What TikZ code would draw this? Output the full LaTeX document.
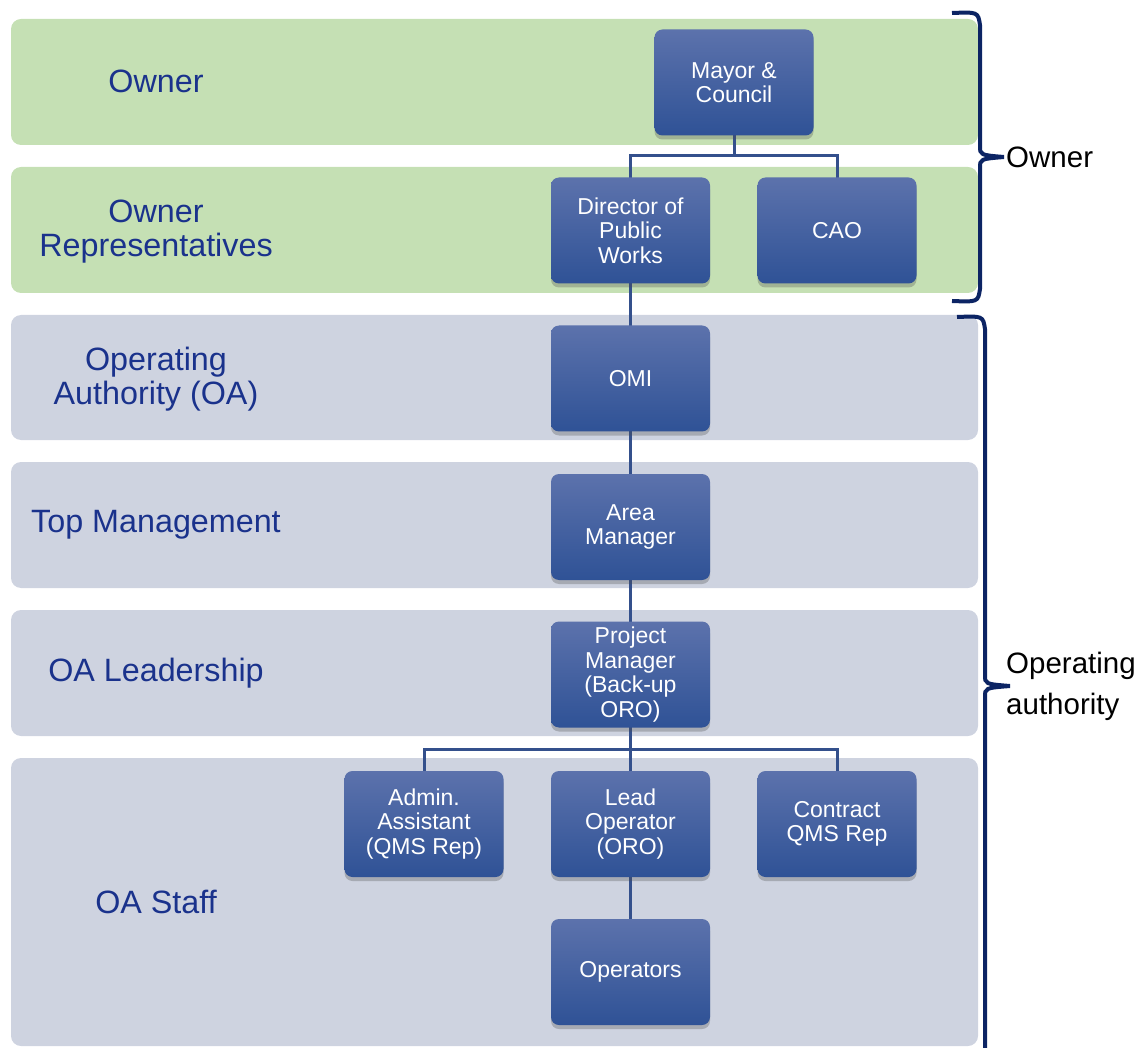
\documentclass[tikz,border=0pt]{standalone}
\usepackage{fontspec}
\setmainfont{Liberation Sans}
\usetikzlibrary{shadows}
\definecolor{greenband}{RGB}{197,224,180}
\definecolor{grayband}{RGB}{206,211,224}
\definecolor{boxtop}{RGB}{92,114,172}
\definecolor{boxbot}{RGB}{47,82,150}
\definecolor{labelblue}{RGB}{26,50,140}
\definecolor{bracecol}{RGB}{12,36,100}
\definecolor{linecol}{RGB}{52,80,140}
\begin{document}
\begin{tikzpicture}[x=1pt,y=-1pt,
 band/.style={rounded corners=10pt},
 orgbox/.style={rounded corners=8pt, minimum width=159pt, minimum height=106pt, top color=boxtop, bottom color=boxbot, draw=none, text=white, font=\fontsize{23}{24.5}\selectfont, align=center, inner sep=2pt, drop shadow={shadow xshift=0pt, shadow yshift=-4pt, opacity=0.3, fill=black!70}},
 bandlabel/.style={text=labelblue, font=\fontsize{32.3}{34}\selectfont, align=center},
 conn/.style={draw=linecol, line width=3pt},
 brace/.style={draw=bracecol, line width=4pt},
 sidelabel/.style={font=\fontsize{29.5}{41}\selectfont, align=left, anchor=west, inner sep=0pt}
]
\useasboundingbox (0,0) rectangle (1146,1048);
% bands
\fill[greenband, band] (11,19) rectangle (978,145);
\fill[greenband, band] (11,167) rectangle (978,293);
\fill[grayband, band] (11,315) rectangle (978,440);
\fill[grayband, band] (11,462) rectangle (978,588);
\fill[grayband, band] (11,610) rectangle (978,736);
\fill[grayband, band] (11,758) rectangle (978,1046);
% band labels
\node[bandlabel] (l1) at (156,81) {Owner};
\node[bandlabel] (l2) at (156,232) {Owner\\Representatives};
\node[bandlabel] (l3) at (156,379.5) {Operating\\Authority (OA)};
\node[bandlabel] (l4) at (156,525) {Top Management};
\node[bandlabel] (l5) at (156,673) {OA Leadership};
\node[bandlabel] (l6) at (156,902) {OA Staff};
% connectors (drawn first)
\draw[conn] (734,135) -- (734,156) -| (630.5,178);
\draw[conn] (734,156) -| (837,178);
\draw[conn] (630.5,283) -- (630.5,972);
\draw[conn] (630.5,727) -- (630.5,749) -| (424,771);
\draw[conn] (630.5,749) -| (837,771);
% boxes
\node[orgbox] (mayor) at (734,82.5) {Mayor \&\\Council};
\node[orgbox] (dir) at (630.5,230.5) {Director of\\Public\\Works};
\node[orgbox] (cao) at (837,230.5) {CAO};
\node[orgbox] (omi) at (630.5,378.5) {OMI};
\node[orgbox] (area) at (630.5,527) {Area\\Manager};
\node[orgbox] (pm) at (630.5,674.5) {Project\\Manager\\(Back-up\\ORO)};
\node[orgbox] (admin) at (424,824) {Admin.\\Assistant\\(QMS Rep)};
\node[orgbox] (lead) at (630.5,824) {Lead\\Operator\\(ORO)};
\node[orgbox] (contract) at (837,824) {Contract\\QMS Rep};
\node[orgbox] (ops) at (630.5,972) {Operators};
% braces
\draw[brace] (952,13) .. controls (978,12) .. (980,25) -- (980,146) .. controls (980,155) .. (1004,157);
\draw[brace] (952,301) .. controls (978,302) .. (980,289) -- (980,168) .. controls (980,159) .. (1004,157);
\draw[brace] (957,317) .. controls (983,316) .. (985,329) -- (985,675) .. controls (985,684) .. (1010,686);
\draw[brace] (1010,686) .. controls (985,688) .. (985,697) -- (985,1048);
\node[sidelabel] (s1) at (1006,157) {Owner};
\node[sidelabel] (s2) at (1006,686) {Operating\\authority};
\end{tikzpicture}
\end{document}
